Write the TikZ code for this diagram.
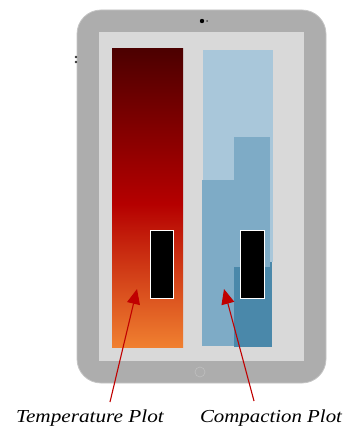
\documentclass[tikz,border=0pt]{standalone}
\usepackage{fontspec}
\setmainfont{Liberation Serif}
\usetikzlibrary{arrows.meta}
\definecolor{bodygray}{HTML}{ADADAD}
\definecolor{bodyedge}{HTML}{C4C4C4}
\definecolor{screengray}{HTML}{D9D9D9}
\definecolor{tdark}{HTML}{4C0000}
\definecolor{tred}{HTML}{B50000}
\definecolor{torange}{HTML}{F08030}
\definecolor{blight}{HTML}{A9C7DA}
\definecolor{bmid}{HTML}{7EABC6}
\definecolor{bdark}{HTML}{4A88AA}
\definecolor{arrowred}{HTML}{C00000}
\pgfdeclareverticalshading{tempshade}{100bp}{color(0bp)=(torange); color(25bp)=(torange); color(49bp)=(tred); color(75bp)=(tdark); color(100bp)=(tdark)}
\tikzset{
  blackbox/.style={draw=white, line width=1pt, fill=black},
  pointer/.style={draw=arrowred, line width=1.1pt, -{Triangle[length=15pt,width=13pt]}},
  plotlabel/.style={font=\itshape\fontsize{18.3}{20}\selectfont, inner sep=0pt, anchor=base},
}
\begin{document}
\begin{tikzpicture}[x=1pt,y=1pt]
\useasboundingbox (0,0) rectangle (343,-427);
% tablet body
\draw[bodyedge, fill=bodygray, line width=0.8pt, rounded corners=24pt] (77,-10) rectangle (326,-383);
% screen
\fill[screengray] (99,-32) rectangle (304,-361);
% camera
\fill[black] (202,-21) circle (2.2pt);
\fill[black!70] (207,-21) circle (1pt);
% side dots
\fill[black!80] (76,-57) circle (1.3pt);
\fill[black!80] (76,-62) circle (1.3pt);
% home button
\draw[black!25, line width=0.6pt] (200,-372) circle (5pt);
% temperature plot
\shade[shading=tempshade] (112,-49) rectangle (183,-347);
\node[blackbox, minimum width=23pt, minimum height=68pt, inner sep=0pt] (tbox) at (161.5,-264) {};
% compaction plot
\fill[blight] (203,-50) rectangle (273,-262);
\fill[bmid] (234,-137) rectangle (270,-347);
\fill[bmid] (202,-180) rectangle (234,-346);
\fill[bdark] (234,-267) rectangle (270,-347);
\fill[bdark] (270,-262) rectangle (272,-347);
\node[blackbox, minimum width=24pt, minimum height=68pt, inner sep=0pt] (cbox) at (252,-264) {};
% labels
\node[plotlabel] (tlabel) at (90,-422) {\scalebox{1.16}[1]{Temperature Plot}};
\node[plotlabel] (clabel) at (271,-422) {\scalebox{1.14}[1]{Compaction Plot}};
\coordinate (tstart) at (110,-402);
\coordinate (ttip) at (137,-289);
\coordinate (cstart) at (254,-401);
\coordinate (ctip) at (224,-289);
\draw[pointer] (tstart) -- (ttip);
\draw[pointer] (cstart) -- (ctip);
\end{tikzpicture}
\end{document}
